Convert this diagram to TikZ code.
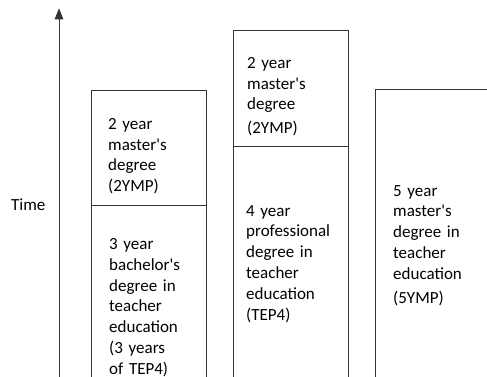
\documentclass[tikz,border=0pt]{standalone}
\usepackage{fontspec}
\setmainfont{Carlito}
\usetikzlibrary{arrows.meta}
\tikzset{
  box/.style={shape=rectangle, draw=black!80, line width=0.9pt, anchor=north west, minimum width=115pt},
  lbl/.style={anchor=base west, align=left, text width=100pt, inner sep=0pt, font=\fontsize{17}{20.8}\selectfont}
}
\newcommand{\apo}{\textquotesingle}
\begin{document}
\begin{tikzpicture}[x=1pt,y=1pt]
  \useasboundingbox (0,0) rectangle (487,376);
  \clip (0,0) rectangle (487,376);

  % time axis
  \coordinate (t0) at (59,-5);
  \coordinate (t1) at (59,367.7);
  \draw[black!80, line width=0.9pt, -{Triangle[length=11pt,width=8.5pt]}] (t0) -- (t1);
  \node[lbl, text width=40pt] (time) at (11,165.3) {Time};

  % boxes
  \node[box, minimum height=115pt] (m1) at (91,286) {};
  \node[box, minimum height=190pt] (b1) at (91,171) {};
  \node[box, minimum height=116pt] (m2) at (233,346) {};
  \node[box, minimum height=250pt] (p2) at (233,230) {};
  \node[box, minimum width=140pt, minimum height=300pt] (m5) at (375,287) {};

  % texts
  \node[lbl] (m1txt) at (108,246.7) {2 year\\master\apo s\\degree\\(2YMP)};
  \node[lbl] (b1txt) at (109,126.5) {3 year\\bachelor\apo s\\degree in\\teacher\\education\\(3 years\\of TEP4)};
  \node[lbl] (m2txt) at (247,307.7) {2 year\\master\apo s\\degree\\[3pt](2YMP)};
  \node[lbl] (p2txt) at (246,160) {4 year\\professional\\degree in\\teacher\\education\\(TEP4)};
  \node[lbl] (m5txt) at (393,180) {5 year\\master\apo s\\degree in\\teacher\\education\\[3pt](5YMP)};
\end{tikzpicture}
\end{document}
